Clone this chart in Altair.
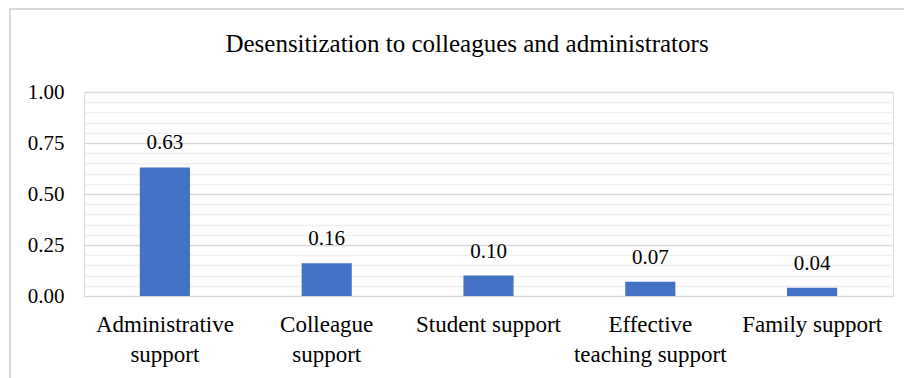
import altair as alt
import pandas as pd

title_text = "Desensitization to colleagues and administrators"
categories = ["Administrative\nsupport", "Colleague\nsupport", "Student support",
              "Effective\nteaching support", "Family support"]
values = [0.63, 0.16, 0.10, 0.07, 0.04]
major_ticks = [0.0, 0.25, 0.5, 0.75, 1.0]
minor_ticks = [0.05, 0.10, 0.15, 0.20, 0.30, 0.35, 0.40, 0.45, 0.55, 0.60, 0.65,
               0.70, 0.80, 0.85, 0.90, 0.95]

df = pd.DataFrame({"cat": categories, "val": values})
FONT = "Liberation Serif"

W, H = 809, 204
L, T = 84, 92

yscale = alt.Scale(domain=[0, 1], nice=False)
xenc = alt.X("cat:N", sort=categories, scale=alt.Scale(paddingInner=0.69, paddingOuter=0.345),
             axis=alt.Axis(title=None, labelAngle=0, labelFont=FONT, labelFontSize=23,
                           labelColor="#000000", labelPadding=17, labelLineHeight=30,
                           labelExpr="split(datum.label, '\\n')",
                           domain=False, ticks=False, grid=False, labelLimit=300))

minor = alt.Chart(df).mark_bar(opacity=0).encode(
    x=xenc,
    y=alt.Y("val:Q", scale=yscale,
            axis=alt.Axis(title=None, values=minor_ticks, labels=False, ticks=False,
                          domain=False, grid=True, gridColor="#f0f0f0", gridWidth=1.5,
                          orient="left")),
)

bars = alt.Chart(df).mark_bar(color="#4472C4").encode(
    x=xenc,
    y=alt.Y("val:Q", scale=yscale,
            axis=alt.Axis(title=None, values=major_ticks, format=".2f", labelFont=FONT,
                          labelFontSize=21, labelColor="#000000", labelPadding=20,
                          ticks=False, domain=False, grid=True, gridColor="#d9d9d9",
                          gridWidth=1.5, orient="left")),
)

text = alt.Chart(df).mark_text(font=FONT, fontSize=21, color="#000000", dy=-24,
                               baseline="middle").encode(
    x=xenc,
    y=alt.Y("val:Q", scale=yscale,
            axis=alt.Axis(title=None, values=major_ticks, labels=False, ticks=False,
                          domain=False, grid=False, orient="left")),
    text=alt.Text("val:Q", format=".2f"),
)

title = alt.Chart(pd.DataFrame({"t": [title_text]})).mark_text(
    font=FONT, fontSize=25, color="#000000", align="center", baseline="alphabetic"
).encode(x=alt.value(467 - L), y=alt.value(52 - T), text="t:N")

frame_left = alt.Chart(df).mark_rule(color="#d9d9d9", strokeWidth=2).encode(
    x=alt.value(10 - L), y=alt.value(8 - T), y2=alt.value(400))
frame_top = alt.Chart(df).mark_rule(color="#d9d9d9", strokeWidth=2).encode(
    x=alt.value(10 - L), x2=alt.value(1000), y=alt.value(9 - T))

chart = alt.layer(minor, bars, text, title, frame_left, frame_top).resolve_axis(
    y="independent"
).properties(
    width=W, height=H,
    padding={"left": L, "top": T, "right": 904 - L - W, "bottom": 378 - T - H},
    autosize=alt.AutoSizeParams(type="none"),
).configure_view(stroke="transparent", strokeWidth=0).configure(background="white")

chart.save("out.html", embed_options={"renderer": "svg", "actions": False})
